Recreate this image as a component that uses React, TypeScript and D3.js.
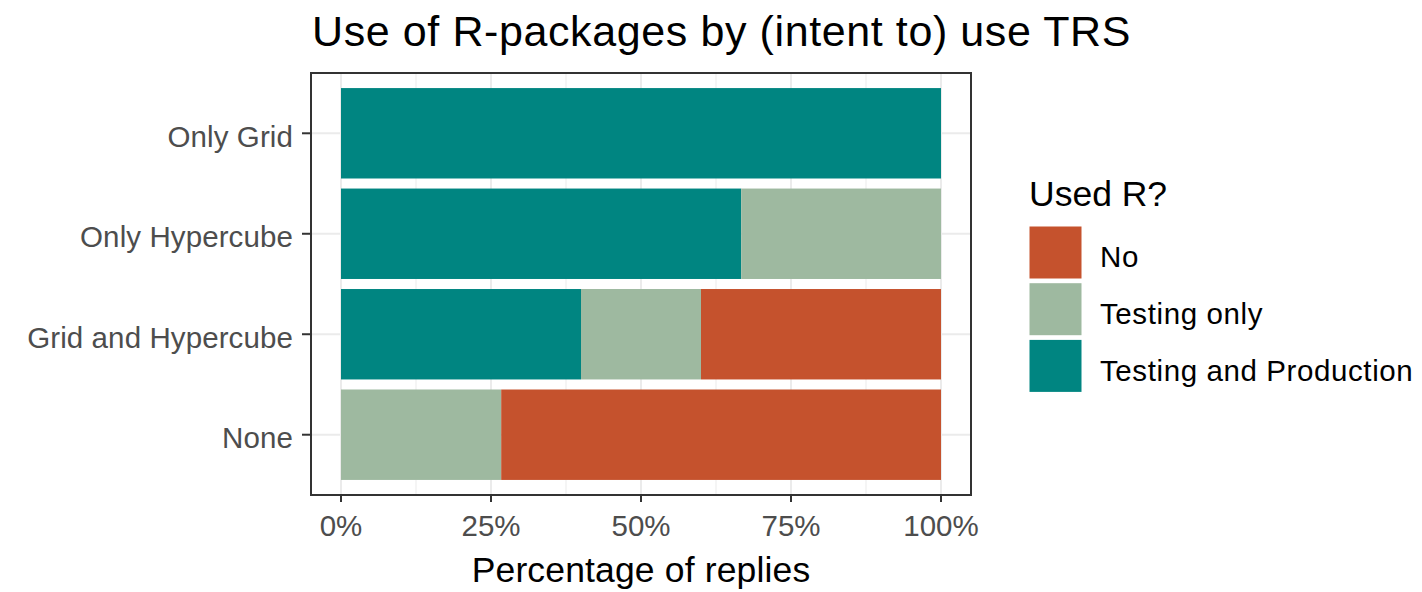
import React from "react";
import * as d3 from "d3";

const categories = ["Only Grid", "Only Hypercube", "Grid and Hypercube", "None"];
const testingAndProduction = [1, 0.667, 0.4, 0];
const testingOnly = [0, 0.333, 0.2, 0.267];
const noUse = [0, 0, 0.4, 0.733];

const legendLabels = ["No", "Testing only", "Testing and Production"];
const xTicks = [0, 0.25, 0.5, 0.75, 1];
const xMinor = [0.125, 0.375, 0.625, 0.875];

const colors: Record<string, string> = {
  tp: "#008581",
  testing: "#9EB9A0",
  no: "#C5522D",
};

const width = 1422;
const height = 592;
const panel = { left: 311, right: 971, top: 73, bottom: 495 };
const font = "'Liberation Sans', Arial, sans-serif";

const App: React.FC = () => {
  const rows = categories.map((c, i) => ({
    category: c,
    tp: testingAndProduction[i],
    testing: testingOnly[i],
    no: noUse[i],
  }));

  const x = d3.scaleLinear().domain([-0.05, 1.05]).range([panel.left, panel.right]);
  const y = d3
    .scaleBand()
    .domain(categories)
    .range([panel.top, panel.bottom])
    .paddingInner(0.1)
    .paddingOuter(0.15);

  const stack = d3.stack<any>().keys(["tp", "testing", "no"]);
  const series = stack(rows);

  const legendKeys = ["no", "testing", "tp"];
  const pct = d3.format(".0%");

  return (
    <svg
      width={width}
      height={height}
      style={{ position: "absolute", left: 0, top: 0, background: "#fff" }}
    >
      {/* grid */}
      {xMinor.map((t) => (
        <line key={"mi" + t} x1={x(t)} x2={x(t)} y1={panel.top} y2={panel.bottom} stroke="#EBEBEB" strokeWidth={1} />
      ))}
      {xTicks.map((t) => (
        <line key={"ma" + t} x1={x(t)} x2={x(t)} y1={panel.top} y2={panel.bottom} stroke="#EBEBEB" strokeWidth={2} />
      ))}
      {categories.map((c) => (
        <line
          key={"gy" + c}
          x1={panel.left}
          x2={panel.right}
          y1={(y(c) || 0) + y.bandwidth() / 2}
          y2={(y(c) || 0) + y.bandwidth() / 2}
          stroke="#EBEBEB"
          strokeWidth={2}
        />
      ))}

      {/* bars */}
      {series.map((s) => (
        <g key={s.key} fill={colors[s.key]}>
          {s.map((d, i) =>
            d[1] - d[0] > 0 ? (
              <rect
                key={i}
                x={x(d[0])}
                y={y(d.data.category)}
                width={x(d[1]) - x(d[0])}
                height={y.bandwidth()}
              />
            ) : null
          )}
        </g>
      ))}

      {/* panel border */}
      <rect
        x={panel.left}
        y={panel.top}
        width={panel.right - panel.left}
        height={panel.bottom - panel.top}
        fill="none"
        stroke="#333333"
        strokeWidth={2}
      />

      {/* y axis */}
      {categories.map((c) => {
        const cy = (y(c) || 0) + y.bandwidth() / 2;
        return (
          <g key={"ya" + c}>
            <line x1={panel.left - 9} x2={panel.left} y1={cy} y2={cy} stroke="#333333" strokeWidth={2} />
            <text
              x={panel.left - 18}
              y={cy}
              dy="0.46em"
              textAnchor="end"
              fontFamily={font}
              fontSize={29.5}
              letterSpacing={0.1}
              fill="#4D4D4D"
            >
              {c}
            </text>
          </g>
        );
      })}

      {/* x axis */}
      {xTicks.map((t) => (
        <g key={"xa" + t}>
          <line x1={x(t)} x2={x(t)} y1={panel.bottom} y2={panel.bottom + 7} stroke="#333333" strokeWidth={2} />
          <text
            x={x(t)}
            y={536}
            textAnchor="middle"
            fontFamily={font}
            fontSize={29.5}
            fill="#4D4D4D"
          >
            {pct(t)}
          </text>
        </g>
      ))}
      <text
        x={(panel.left + panel.right) / 2}
        y={582}
        textAnchor="middle"
        fontFamily={font}
        fontSize={35.5}
        letterSpacing={0.15}
        fill="#000"
      >
        Percentage of replies
      </text>

      {/* title */}
      <text x={panel.left + 1} y={46} fontFamily={font} fontSize={43} letterSpacing={0.6} fill="#000">
        Use of R-packages by (intent to) use TRS
      </text>

      {/* legend */}
      <text x={1029} y={206} fontFamily={font} fontSize={35.5} fill="#000">
        Used R?
      </text>
      {legendKeys.map((k, i) => {
        const ky = 226.5 + i * 56.7;
        return (
          <g key={"lg" + k}>
            <rect x={1029.5} y={ky} width={52} height={52} fill={colors[k]} />
            <text
              x={1100}
              y={ky + 26}
              dy="0.5em"
              fontFamily={font}
              fontSize={29.5}
              letterSpacing={0.6}
              fill="#000"
            >
              {legendLabels[i]}
            </text>
          </g>
        );
      })}
    </svg>
  );
};

export default App;
